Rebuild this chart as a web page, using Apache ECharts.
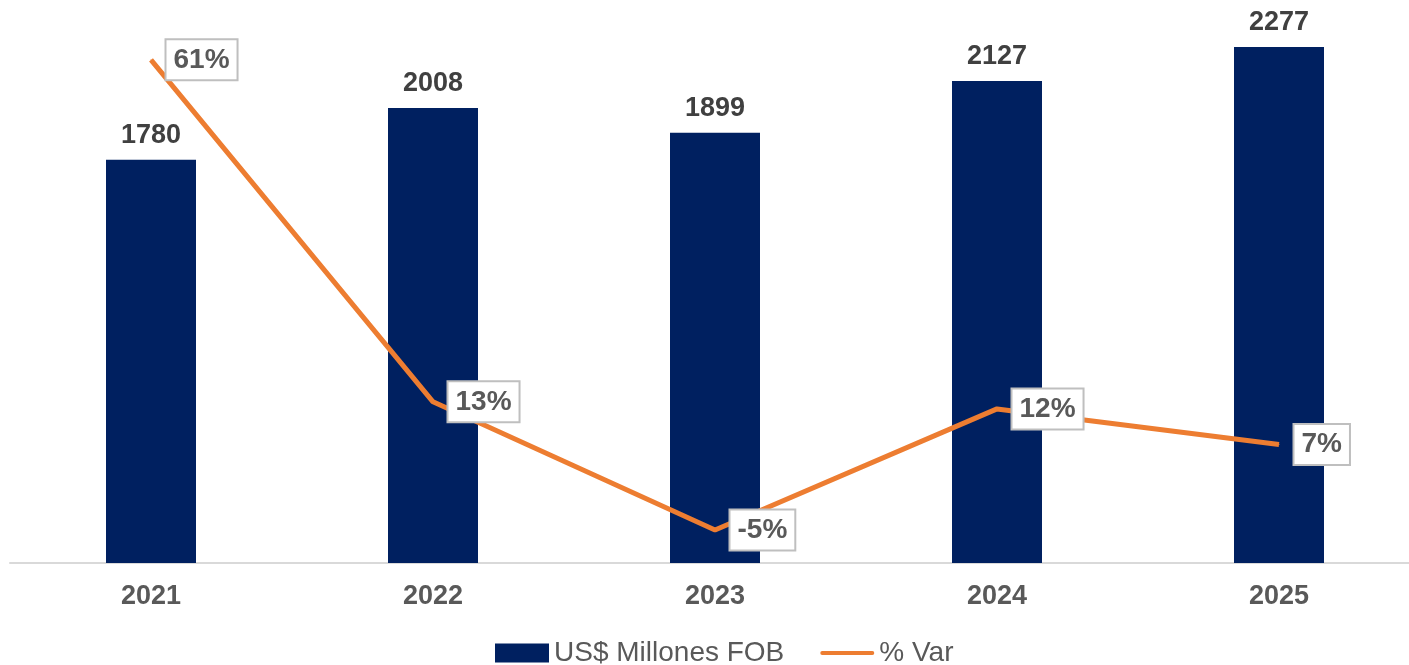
<!DOCTYPE html>
<html>
<head>
<meta charset="utf-8">
<script src="https://cdn.jsdelivr.net/npm/echarts@6/dist/echarts.min.js"></script>
<style>html,body{margin:0;padding:0;background:#fff;}#c{width:1409px;height:665px;}</style>
</head>
<body>
<div id="c"></div>
<script>
var categories = ['2021', '2022', '2023', '2024', '2025'];
var fobValues = [1780, 2008, 1899, 2127, 2277];
var varValues = [61, 13, -5, 12, 7];
var seriesNames = ['US$ Millones FOB', '% Var'];

var chart = echarts.init(document.getElementById('c'));
var font = '"Liberation Sans", Arial, sans-serif';
chart.setOption({
  animation: false,
  textStyle: { fontFamily: font },
  grid: { left: 10, width: 1410, top: 0, bottom: 102, containLabel: false, outerBoundsMode: 'none' },
  legend: {
    bottom: -7, left: 490,
    itemGap: 36,
    itemWidth: 54, itemHeight: 19,
    textStyle: { fontSize: 28, color: '#595959', fontFamily: font },
    data: [
      { name: seriesNames[0], icon: 'rect' },
      { name: seriesNames[1], icon: 'path://M2,0h52a2,2 0 0 1 0,4h-52a2,2 0 0 1 0,-4z' }
    ]
  },
  xAxis: {
    type: 'category',
    data: categories,
    axisLine: { lineStyle: { color: '#d9d9d9', width: 2 } },
    axisTick: { show: false },
    axisLabel: { fontSize: 27, fontWeight: 'bold', color: '#595959', margin: 20, fontFamily: font }
  },
  yAxis: [
    { type: 'value', min: 0, max: 2485, show: false, splitLine: { show: false } },
    { type: 'value', min: -9.63, max: 69.4, show: false, splitLine: { show: false } }
  ],
  series: [
    {
      name: seriesNames[0],
      type: 'bar',
      data: fobValues,
      barWidth: 90,
      itemStyle: { color: '#002060' },
      label: { show: true, position: 'top', distance: 11, fontSize: 27, fontWeight: 'bold', color: '#404040', fontFamily: font }
    },
    {
      name: seriesNames[1],
      type: 'line',
      yAxisIndex: 1,
      data: varValues,
      symbol: 'circle',
      symbolSize: 1,
      lineStyle: { color: '#ED7D31', width: 5 },
      itemStyle: { color: '#ED7D31' },
      label: {
        show: true, position: 'right', distance: 15,
        formatter: '{c}%',
        fontSize: 28, fontWeight: 'bold', color: '#595959', fontFamily: font,
        lineHeight: 30,
        backgroundColor: '#fff', borderColor: '#bfbfbf', borderWidth: 2,
        padding: [5, 7, 4, 7]
      }
    }
  ]
});
</script>
</body>
</html>
